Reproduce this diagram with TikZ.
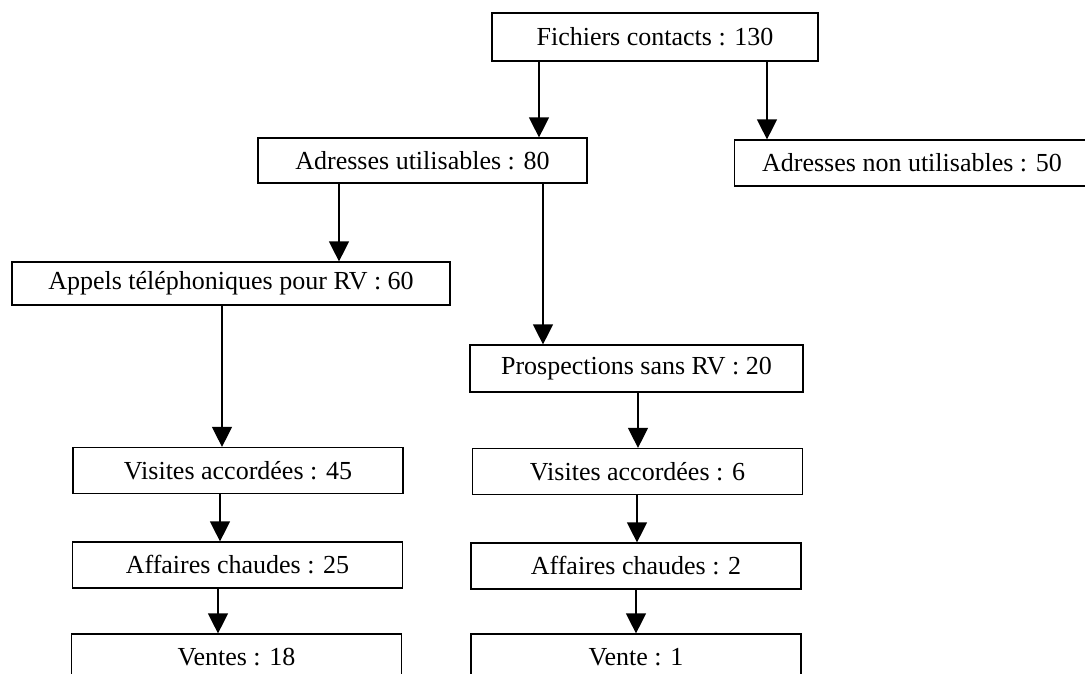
\documentclass[tikz,border=0pt]{standalone}
\usepackage{fontspec}
\setmainfont{Liberation Serif}
\usetikzlibrary{arrows.meta}

\begin{document}
\begin{tikzpicture}[
    x=1pt, y=-1pt,
    etape/.style = {draw, line width=1.2pt, minimum width=330pt, minimum height=46pt, inner sep=0pt, font=\fontsize{26}{26}\selectfont},
    fleche/.style = {-{Triangle[length=20pt,width=20pt]}, line width=1.3pt}
    ]
    \useasboundingbox (0,0) rectangle (1085,674);
    \clip (0,0) rectangle (1085,674);

    \node[etape, minimum width=326pt, minimum height=48pt] (fichiers) at (655,37) {Fichiers contacts : 130};
    \node[etape, minimum width=329pt, minimum height=45pt] (utilisables) at (422.5,160.5) {Adresses utilisables : 80};
    \node[etape, minimum width=355pt] (nonutil) at (912,163) {Adresses non utilisables : 50};
    \node[etape, minimum width=438pt, minimum height=43pt] (appels) at (231,283.5) {Appels téléphoniques pour RV : 60};
    \node[etape, minimum width=333pt, minimum height=47pt] (prospections) at (636.5,368.5) {Prospections sans RV : 20};
    \node[etape] (visites45) at (238,470.5) {Visites accordées : 45};
    \node[etape] (affaires25) at (237.5,565) {Affaires chaudes : 25};
    \node[etape] (ventes18) at (236.5,657) {Ventes : 18};
    \node[etape] (visites6) at (637.5,471.5) {Visites accordées : 6};
    \node[etape] (affaires2) at (636,566) {Affaires chaudes : 2};
    \node[etape] (vente1) at (636,657) {Vente : 1};

    % abscisses des fleches
    \coordinate (xa) at (539,0);
    \coordinate (xb) at (767,0);
    \coordinate (xc) at (339,0);
    \coordinate (xd) at (543,0);
    \coordinate (xe) at (222,0);
    \coordinate (xf) at (220,0);
    \coordinate (xg) at (218,0);
    \coordinate (xh) at (638,0);
    \coordinate (xi) at (637,0);
    \coordinate (xj) at (636,0);

    \draw[fleche] (fichiers.south -| xa) -- (utilisables.north -| xa);
    \draw[fleche] (fichiers.south -| xb) -- (nonutil.north -| xb);
    \draw[fleche] (utilisables.south -| xc) -- (appels.north -| xc);
    \draw[fleche] (utilisables.south -| xd) -- (prospections.north -| xd);
    \draw[fleche] (appels.south -| xe) -- (visites45.north -| xe);
    \draw[fleche] (visites45.south -| xf) -- (affaires25.north -| xf);
    \draw[fleche] (affaires25.south -| xg) -- (ventes18.north -| xg);
    \draw[fleche] (prospections.south -| xh) -- (visites6.north -| xh);
    \draw[fleche] (visites6.south -| xi) -- (affaires2.north -| xi);
    \draw[fleche] (affaires2.south -| xj) -- (vente1.north -| xj);
\end{tikzpicture}
\end{document}
